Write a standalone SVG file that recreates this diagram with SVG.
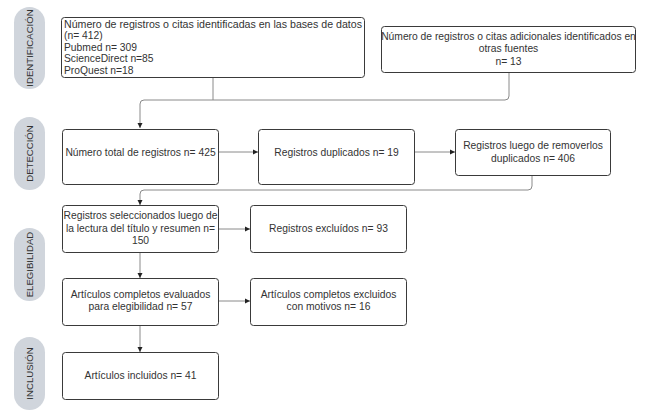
<svg xmlns="http://www.w3.org/2000/svg" width="647" height="413" viewBox="0 0 647 413">
<style>
.box{fill:#fff;stroke:#3a3a3a;stroke-width:1;}
.pill{fill:#d0d5dc;}
.t{font-family:"Liberation Sans",Arial,sans-serif;font-size:10.3px;fill:#333;}
.c{text-anchor:middle;}
.side{font-family:"Liberation Sans",Arial,sans-serif;font-size:9.6px;fill:#333;text-anchor:middle;}
.conn{fill:none;stroke:#8a8a8a;stroke-width:1;}
</style>
<defs>
<marker id="ah" markerWidth="6" markerHeight="6" refX="5" refY="3" orient="auto" markerUnits="userSpaceOnUse">
<path d="M0,0.5 L5,3 L0,5.5 Z" fill="#222"/>
</marker>
</defs>
<rect width="647" height="413" fill="#fff"/>
<g id="lanes">
<g id="lane-identificacion"><rect class="pill" x="14" y="7" width="31" height="82" rx="15.5"/><text class="side" transform="translate(33,48) rotate(-90)">IDENTIFICACIÓN</text></g>
<g id="lane-deteccion"><rect class="pill" x="14" y="117" width="31" height="73" rx="15.5"/><text class="side" transform="translate(33,153.5) rotate(-90)">DETECCIÓN</text></g>
<g id="lane-elegibilidad"><rect class="pill" x="14" y="228" width="31" height="73" rx="15.5"/><text class="side" transform="translate(33,264.5) rotate(-90)">ELEGIBILIDAD</text></g>
<g id="lane-inclusion"><rect class="pill" x="14" y="337" width="31" height="73" rx="15.5"/><text class="side" transform="translate(33,373.5) rotate(-90)">INCLUSIÓN</text></g>
</g>
<g id="connectors">
<path class="conn" d="M213,77 V100 H144 Q140,100 140,104 V128" marker-end="url(#ah)"/>
<path class="conn" d="M509,72 V96 Q509,100 505,100 H213"/>
<path class="conn" d="M218,152 H258" marker-end="url(#ah)"/>
<path class="conn" d="M414,152 H455" marker-end="url(#ah)"/>
<path class="conn" d="M532,175 V186 Q532,190 528,190 H144 Q140,190 140,194 V205" marker-end="url(#ah)"/>
<path class="conn" d="M218,229 H250" marker-end="url(#ah)"/>
<path class="conn" d="M140,252 V278" marker-end="url(#ah)"/>
<path class="conn" d="M218,301 H250" marker-end="url(#ah)"/>
<path class="conn" d="M140,325 V352" marker-end="url(#ah)"/>
</g>
<g id="n-bases">
<rect class="box" x="61.5" y="17.5" width="303" height="60" rx="3"/>
<text class="t" x="64" y="27.5" textLength="298" lengthAdjust="spacingAndGlyphs">Número de registros o citas identificadas en las bases de datos</text>
<text class="t" x="64" y="39">(n= 412)</text>
<text class="t" x="64" y="50.5">Pubmed n= 309</text>
<text class="t" x="64" y="62">ScienceDirect n=85</text>
<text class="t" x="64" y="73.5">ProQuest n=18</text>
</g>
<g id="n-otras">
<rect class="box" x="381.5" y="26.5" width="254" height="46" rx="3"/>
<text class="t c" x="508.5" y="39.5">Número de registros o citas adicionales identificados en</text>
<text class="t c" x="508.5" y="52">otras fuentes</text>
<text class="t c" x="508.5" y="64.5">n= 13</text>
</g>
<g id="n-total">
<rect class="box" x="62.5" y="129.5" width="156" height="55" rx="3"/>
<text class="t c" x="140.5" y="155.5">Número total de registros n= 425</text>
</g>
<g id="n-duplicados">
<rect class="box" x="258.5" y="129.5" width="156" height="55" rx="3"/>
<text class="t c" x="336.5" y="155.5">Registros duplicados n= 19</text>
</g>
<g id="n-luego">
<rect class="box" x="455.5" y="129.5" width="155" height="46" rx="3"/>
<text class="t c" x="533" y="149">Registros luego de removerlos</text>
<text class="t c" x="533" y="161.5">duplicados n= 406</text>
</g>
<g id="n-seleccionados">
<rect class="box" x="62.5" y="205.5" width="156" height="47" rx="3"/>
<text class="t c" x="140.5" y="219">Registros seleccionados luego de</text>
<text class="t c" x="140.5" y="231.5">la lectura del título y resumen n=</text>
<text class="t c" x="140.5" y="244">150</text>
</g>
<g id="n-excluidos">
<rect class="box" x="250.5" y="205.5" width="156" height="47" rx="3"/>
<text class="t c" x="328.5" y="232">Registros excluídos n= 93</text>
</g>
<g id="n-evaluados">
<rect class="box" x="62.5" y="278.5" width="156" height="47" rx="3"/>
<text class="t c" x="140.5" y="297.5">Artículos completos evaluados</text>
<text class="t c" x="140.5" y="310">para elegibilidad n= 57</text>
</g>
<g id="n-excl-motivos">
<rect class="box" x="250.5" y="278.5" width="156" height="47" rx="3"/>
<text class="t c" x="328.5" y="297.5">Artículos completos excluidos</text>
<text class="t c" x="328.5" y="310">con motivos n= 16</text>
</g>
<g id="n-incluidos">
<rect class="box" x="62.5" y="352.5" width="156" height="47" rx="3"/>
<text class="t c" x="140.5" y="378.5">Artículos incluidos n= 41</text>
</g>
</svg>
